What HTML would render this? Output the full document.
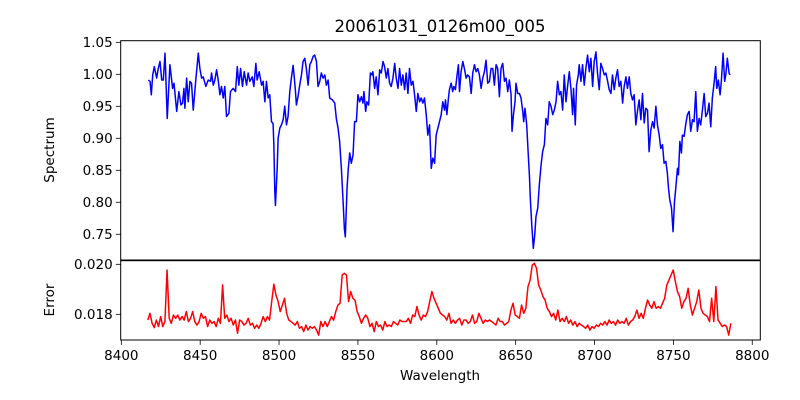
<!DOCTYPE html>
<html><head><meta charset="utf-8"><style>
html,body{margin:0;padding:0;background:#fff;}
svg{display:block;font-family:"DejaVu Sans","Liberation Sans",sans-serif;}
</style></head><body>
<svg id="chart" width="800" height="400" viewBox="0 0 800 400" xmlns="http://www.w3.org/2000/svg">
<rect width="800" height="400" fill="#fff"/>
<text x="440" y="32" font-size="16.5" text-anchor="middle">20061031_0126m00_005</text>
<text transform="translate(54,150) rotate(-90)" font-size="13.5" text-anchor="middle">Spectrum</text>
<text transform="translate(54,300) rotate(-90)" font-size="13.5" text-anchor="middle">Error</text>
<text x="440" y="380" font-size="13.5" text-anchor="middle">Wavelength</text>
<g id="topgrp"></g><g id="botgrp"></g>
</svg>
<script>
const specWave=[8417.1,8418.2,8419.0,8419.9,8420.9,8422.4,8423.4,8424.5,8425.6,8426.6,8427.7,8429.1,8430.8,8432.5,8433.4,8435.1,8436.5,8437.8,8438.8,8439.7,8440.3,8441.4,8442.4,8443.5,8444.5,8445.6,8447.3,8448.8,8449.8,8450.9,8451.9,8453.6,8455.1,8456.6,8457.2,8458.3,8459.3,8460.4,8461.4,8462.5,8463.5,8464.6,8465.6,8466.7,8468.2,8469.2,8470.9,8472.4,8473.5,8474.5,8475.6,8476.8,8477.9,8479.4,8480.4,8481.5,8483.0,8484.0,8485.3,8486.1,8487.4,8488.9,8489.9,8491.0,8492.0,8493.1,8494.1,8495.2,8496.2,8496.7,8497.3,8497.7,8498.8,8499.4,8500.5,8501.5,8502.6,8503.6,8504.7,8505.7,8506.8,8507.8,8508.9,8509.5,8510.4,8511.0,8512.0,8513.1,8514.2,8515.2,8516.3,8517.3,8518.4,8519.5,8520.5,8521.6,8522.6,8523.7,8524.7,8525.8,8526.8,8527.9,8529.0,8530.0,8531.1,8532.1,8533.8,8535.3,8536.3,8537.4,8538.4,8539.5,8540.6,8541.4,8542.0,8543.1,8543.9,8544.8,8545.8,8546.9,8547.9,8549.0,8550.0,8551.1,8552.2,8553.2,8553.8,8554.9,8555.7,8556.8,8557.9,8558.9,8559.5,8560.6,8561.6,8562.7,8563.8,8564.8,8565.9,8566.9,8568.0,8569.0,8570.1,8571.1,8572.2,8573.3,8574.3,8575.4,8576.4,8577.5,8578.5,8579.6,8580.6,8581.7,8582.7,8583.8,8584.9,8585.9,8587.0,8588.0,8589.1,8590.1,8591.2,8592.2,8593.3,8594.3,8595.4,8596.5,8597.5,8598.6,8599.6,8600.7,
8601.7,8602.8,8603.8,8604.9,8605.5,8606.4,8607.4,8608.0,8609.1,8610.1,8610.8,8611.8,8612.7,8613.7,8614.4,8615.4,8616.5,8617.5,8618.6,8619.6,8620.7,8621.8,8622.8,8623.9,8624.9,8626.0,8627.0,8628.1,8629.1,8630.2,8631.2,8632.3,8633.4,8634.4,8635.5,8636.5,8637.6,8638.6,8639.7,8640.7,8641.8,8642.9,8643.9,8645.0,8646.0,8647.1,8647.7,8648.6,8649.6,8650.2,8651.3,8652.4,8653.4,8654.5,8655.1,8655.9,8657.0,8658.0,8658.7,8659.3,8660.2,8661.2,8662.1,8662.9,8664.0,8665.0,8666.1,8667.1,8668.2,8669.2,8670.3,8671.3,8672.4,8673.5,8674.5,8675.6,8676.6,8677.7,8678.7,8679.8,8680.8,8681.9,8683.0,8684.0,8685.1,8686.1,8686.7,8687.8,8688.6,8689.7,8690.3,8691.4,8692.4,8693.5,8694.5,8695.6,8696.7,8697.7,8698.8,8699.8,8700.9,8701.9,8703.0,8704.0,8705.1,8706.2,8707.2,8708.3,8709.3,8710.4,8711.4,8712.5,8713.5,8714.6,8715.6,8716.7,8717.8,8718.8,8719.9,8720.9,8722.0,8723.0,8724.1,8725.1,8726.2,8727.3,8728.3,8729.4,8730.4,8731.5,8732.5,8733.6,8734.6,8735.7,8736.8,8737.8,8738.9,8739.9,8741.0,8742.0,8743.1,8744.1,8745.2,8746.2,8746.9,8747.7,8748.8,8749.8,8750.7,8751.5,8752.6,8753.2,8754.1,8755.1,8755.7,8756.8,8757.9,8758.9,8760.0,8761.0,8762.1,8763.1,8764.2,8765.2,8766.3,8767.3,8768.4,8769.5,8770.5,8771.6,8772.6,8773.7,8774.7,8775.8,8776.8,8777.5,8778.5,8779.6,8780.4,8781.5,8782.5,8783.2,8784.2,8785.3,8785.9];
const specFlux=[0.991,0.989,0.968,0.999,1.012,0.994,1.009,1.020,0.991,0.991,1.033,0.931,1.015,0.978,0.986,0.942,0.973,0.952,0.955,0.978,0.947,0.994,0.957,0.989,0.986,0.944,0.994,1.033,1.009,0.994,0.996,0.981,0.991,0.989,1.002,0.983,0.991,1.007,0.991,0.968,0.981,0.963,0.981,0.934,0.939,0.973,0.978,0.973,1.012,0.983,1.009,0.981,1.004,0.983,1.002,0.989,0.996,0.981,1.017,0.991,1.004,0.983,0.989,0.957,0.989,0.963,0.968,0.926,0.923,0.890,0.817,0.795,0.853,0.900,0.916,0.921,0.929,0.950,0.921,0.934,0.973,0.994,1.014,0.999,0.973,0.952,0.965,0.983,0.999,1.020,1.025,1.009,0.983,1.015,1.020,1.028,1.030,1.020,0.981,0.989,1.002,0.994,0.999,0.983,0.991,0.963,0.960,0.955,0.931,0.916,0.895,0.853,0.801,0.759,0.746,0.822,0.853,0.877,0.861,0.874,0.926,0.926,0.968,0.957,0.965,0.955,0.973,0.942,0.957,0.952,1.002,0.999,1.004,0.978,0.996,0.968,1.007,1.002,1.020,1.012,0.994,1.009,0.986,0.981,0.994,1.017,0.994,0.978,1.009,0.983,0.999,0.976,1.002,0.970,1.009,0.983,0.989,0.968,0.942,0.970,0.957,0.963,0.955,0.963,0.937,0.905,0.921,0.853,0.869,0.861,0.905,0.916,
0.926,0.937,0.957,0.944,0.960,0.937,0.963,0.976,0.986,0.973,0.981,0.976,0.996,1.015,0.973,1.004,1.020,1.009,0.994,0.999,0.996,0.970,1.002,1.015,1.004,1.009,0.999,0.978,0.994,1.004,1.022,0.986,0.989,1.009,1.009,0.983,1.015,1.009,0.965,1.009,1.017,0.989,0.994,0.973,0.991,0.968,0.911,0.937,0.957,0.986,0.970,0.970,0.963,0.942,0.926,0.947,0.921,0.874,0.843,0.806,0.765,0.728,0.749,0.778,0.791,0.827,0.858,0.879,0.890,0.931,0.921,0.957,0.950,0.937,0.944,0.957,0.989,0.968,0.973,0.944,0.999,0.957,0.983,1.004,0.976,0.937,0.978,0.921,0.983,0.999,1.015,0.989,1.015,0.983,1.009,1.030,1.004,1.025,0.981,1.020,1.035,1.002,0.976,1.017,1.009,0.999,1.002,0.989,0.976,0.970,0.999,0.976,0.994,1.007,0.981,0.989,0.955,0.981,0.996,0.978,0.996,0.970,0.960,0.968,0.921,0.944,0.960,0.929,0.970,0.924,0.947,0.944,0.879,0.913,0.926,0.916,0.950,0.921,0.905,0.884,0.890,0.861,0.864,0.845,0.822,0.804,0.791,0.754,0.801,0.822,0.853,0.843,0.895,0.877,0.905,0.903,0.923,0.937,0.942,0.911,0.929,0.926,0.973,0.911,0.931,0.921,0.944,0.970,0.934,0.939,0.955,0.918,0.963,0.986,1.012,0.978,0.991,0.968,0.989,1.033,0.989,0.999,1.025,1.002,0.999];
const errStart=8416.8;
const errStep=1.354;
const errVals=[0.01777,0.01804,0.01764,0.01747,0.01777,0.01751,0.01791,0.01751,0.01771,0.01977,
0.01784,0.01764,0.01797,0.01784,0.01797,0.01777,0.01791,0.01777,0.01811,0.01771,
0.01784,0.01811,0.01771,0.01757,0.01771,0.01804,0.01784,0.01791,0.01751,0.01777,
0.01764,0.01771,0.01751,0.01784,0.01764,0.01917,0.01784,0.01797,0.01771,0.01784,
0.01757,0.01777,0.01724,0.01777,0.01771,0.01757,0.01764,0.01784,0.01757,0.01764,
0.01744,0.01757,0.01744,0.01764,0.01791,0.01771,0.01791,0.01777,0.01851,0.01920,
0.01877,0.01851,0.01811,0.01837,0.01864,0.01804,0.01777,0.01771,0.01764,0.01757,
0.01771,0.01744,0.01751,0.01731,0.01757,0.01737,0.01751,0.01744,0.01751,0.01737,
0.01717,0.01771,0.01751,0.01771,0.01751,0.01771,0.01791,0.01777,0.01811,0.01837,
0.01844,0.01957,0.01964,0.01957,0.01851,0.01891,0.01864,0.01857,0.01811,0.01791,
0.01764,0.01784,0.01797,0.01784,0.01751,0.01764,0.01731,0.01771,0.01751,0.01757,
0.01737,0.01771,0.01751,0.01757,0.01751,0.01771,0.01764,0.01757,0.01777,0.01771,
0.01771,0.01771,0.01784,0.01764,0.01797,0.01791,0.01831,0.01797,0.01777,0.01797,
0.01791,0.01811,0.01851,0.01891,0.01864,0.01844,0.01824,0.01804,0.01797,0.01791,
0.01777,0.01804,0.01764,0.01777,0.01764,0.01777,0.01784,0.01757,0.01777,0.01777,
0.01764,0.01771,0.01797,0.01764,0.01771,0.01804,0.01784,0.01764,0.01777,0.01771,
0.01777,0.01771,0.01764,0.01757,0.01784,0.01771,0.01771,0.01757,0.01764,0.01771,
0.01817,0.01844,0.01797,0.01791,0.01784,0.01837,0.01804,0.01824,0.01911,0.01937,
0.01997,0.02004,0.01984,0.01917,0.01897,0.01871,0.01857,0.01824,0.01811,0.01791,
0.01804,0.01777,0.01817,0.01771,0.01784,0.01771,0.01791,0.01764,0.01777,0.01757,
0.01771,0.01751,0.01764,0.01757,0.01751,0.01744,0.01757,0.01737,0.01751,0.01744,
0.01757,0.01751,0.01764,0.01757,0.01771,0.01757,0.01777,0.01764,0.01771,0.01757,
0.01777,0.01764,0.01771,0.01764,0.01784,0.01757,0.01771,0.01777,0.01791,0.01817,
0.01784,0.01804,0.01784,0.01824,0.01857,0.01837,0.01824,0.01851,0.01824,0.01831,
0.01824,0.01844,0.01864,0.01917,0.01937,0.01957,0.01977,0.01931,0.01891,0.01871,
0.01824,0.01851,0.01864,0.01904,0.01837,0.01797,0.01824,0.01851,0.01897,0.01824,
0.01804,0.01797,0.01791,0.01771,0.01864,0.01771,0.01911,0.01777,0.01764,0.01751,
0.01757,0.01751,0.01717,0.01764];
const xTicks=[8400,8450,8500,8550,8600,8650,8700,8750,8800];
const specTicks=[0.75,0.80,0.85,0.90,0.95,1.00,1.05];
const errTicks=[0.018,0.020];

const NS="http://www.w3.org/2000/svg";
const L=120.7,R=760.3,T1=40.7,B1=260,T2=260.7,B2=340;
const X0=8399.6,X1=8805.1,S0=0.7098,S1=1.0525,E0=0.016972,E1=0.020144;
const xs=v=>L+(v-X0)/(X1-X0)*(R-L);
const ys=v=>B1-(v-S0)/(S1-S0)*(B1-T1);
const ye=v=>B2-(v-E0)/(E1-E0)*(B2-T2);
function mk(tag,attrs,parent){const e=document.createElementNS(NS,tag);for(const k in attrs)e.setAttribute(k,attrs[k]);parent.appendChild(e);return e;}
const topG=document.getElementById('topgrp'),botG=document.getElementById('botgrp');

let pd=specWave.map((w,i)=>(i?'L':'M')+xs(w).toFixed(2)+' '+ys(specFlux[i]).toFixed(2)).join('');
const sl=mk('path',{d:pd,fill:'none',stroke:'#0000ff','stroke-width':1.5,'stroke-linejoin':'round'},topG);


pd=errVals.map((v,i)=>(i?'L':'M')+xs(errStart+i*errStep).toFixed(2)+' '+ye(v).toFixed(2)).join('');
const el=mk('path',{d:pd,fill:'none',stroke:'#ff0000','stroke-width':1.5,'stroke-linejoin':'round'},botG);



const f1=mk('rect',{x:L,y:T1,width:R-L,height:B1-T1,fill:'none',stroke:'#000','stroke-width':1},topG);


const f2=mk('rect',{x:L,y:T2,width:R-L,height:B2-T2,fill:'none',stroke:'#000','stroke-width':1},botG);



specTicks.forEach(t=>{const y=ys(t);
 mk('line',{x1:L-4.9,x2:L,y1:y,y2:y,stroke:'#000','stroke-width':0.8},topG);
 const tx=mk('text',{x:L-8,y:y+4.8,'font-size':13.5,'text-anchor':'end'},topG);tx.textContent=t.toFixed(2);
 
 });
errTicks.forEach(t=>{const y=ye(t);
 mk('line',{x1:L-4.9,x2:L,y1:y,y2:y,stroke:'#000','stroke-width':0.8},botG);
 const tx=mk('text',{x:L-8,y:y+4.8,'font-size':13.5,'text-anchor':'end'},botG);tx.textContent=t.toFixed(3);
 
 });
xTicks.forEach(t=>{const x=xs(t);
 mk('line',{x1:x,x2:x,y1:B2,y2:B2+4.9,stroke:'#000','stroke-width':0.8},botG);
 const tx=mk('text',{x:x,y:B2+20,'font-size':13.5,'text-anchor':'middle'},botG);tx.textContent=t;
 
 });
</script>
</body></html>
